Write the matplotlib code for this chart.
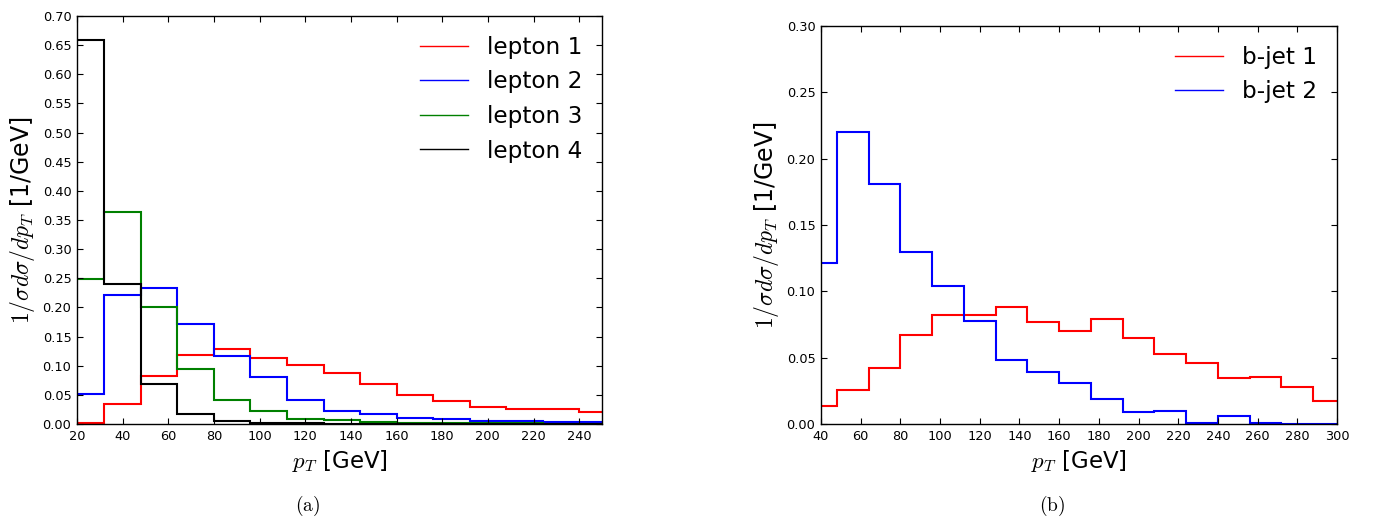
import numpy as np
import matplotlib
matplotlib.use("Agg")
import matplotlib.pyplot as plt
from matplotlib.lines import Line2D

plt.rcParams['mathtext.fontset'] = 'cm'
plt.rcParams['font.family'] = ['DejaVu Sans']

# ---- data ----
lep_edges = [16, 32, 48, 64, 80, 96, 112, 128, 144, 160, 176, 192, 208, 224, 240, 256]
lepton1 = [0.001, 0.035, 0.082, 0.118, 0.128, 0.114, 0.102, 0.087, 0.068, 0.050, 0.039, 0.030, 0.026, 0.025, 0.020]
lepton2 = [0.052, 0.221, 0.234, 0.171, 0.117, 0.080, 0.042, 0.023, 0.017, 0.010, 0.0086, 0.006, 0.005, 0.004, 0.003]
lepton3 = [0.249, 0.364, 0.201, 0.094, 0.041, 0.022, 0.009, 0.007, 0.003, 0.002, 0.0015, 0.001, 0.001, 0.0008, 0.0005]
lepton4 = [0.658, 0.241, 0.068, 0.018, 0.006, 0.002, 0.001, 0.0005, 0.0003, 0.0002, 0.0001, 0.0001, 0.0, 0.0, 0.0]
lep_labels = ['lepton 1', 'lepton 2', 'lepton 3', 'lepton 4']

jet_edges = [32, 48, 64, 80, 96, 112, 128, 144, 160, 176, 192, 208, 224, 240, 256, 272, 288, 304]
bjet1 = [0.0135, 0.026, 0.042, 0.067, 0.082, 0.082, 0.088, 0.077, 0.070, 0.079, 0.065, 0.053, 0.046, 0.035, 0.0356, 0.028, 0.017]
bjet2 = [0.121, 0.220, 0.181, 0.130, 0.104, 0.078, 0.048, 0.039, 0.031, 0.019, 0.009, 0.010, 0.001, 0.006, 0.001, 0.0003, 0.0001]
jet_labels = ['b-jet 1', 'b-jet 2']

colors = ['#ff0000', '#0000ff', '#008000', '#000000']

fig = plt.figure(figsize=(13.75, 5.21), dpi=100)
ax1 = fig.add_axes([77/1375, 1-424/521, (602-77)/1375, (424-16)/521])
ax2 = fig.add_axes([821/1375, 1-424/521, (1337-821)/1375, (424-26)/521])

def style(ax):
    ax.tick_params(direction='in', top=True, right=True, length=4, width=0.8,
                   labelsize=9.3, pad=4)
    for s in ax.spines.values():
        s.set_linewidth(1.0)

for vals, c in zip([lepton1, lepton2, lepton3, lepton4], colors):
    ax1.stairs(vals, lep_edges, color=c, linewidth=1.5, baseline=None)
ax1.set_xlim(20, 250)
ax1.set_ylim(0, 0.70)
ax1.set_xticks(np.arange(20, 241, 20))
ax1.set_yticks(np.arange(0, 0.701, 0.05))
ax1.yaxis.set_major_formatter(matplotlib.ticker.FormatStrFormatter('%.2f'))
style(ax1)

for vals, c in zip([bjet1, bjet2], colors[:2]):
    ax2.stairs(vals, jet_edges, color=c, linewidth=1.5, baseline=None)
ax2.set_xlim(40, 300)
ax2.set_ylim(0, 0.30)
ax2.set_xticks(np.arange(40, 301, 20))
ax2.set_yticks(np.arange(0, 0.301, 0.05))
ax2.yaxis.set_major_formatter(matplotlib.ticker.FormatStrFormatter('%.2f'))
style(ax2)

ylab = r'$1/\sigma d\sigma/dp_T$ [1/GeV]'
xlab = r'$p_T$ [GeV]'
for ax in (ax1, ax2):
    ax.set_xlabel(xlab, fontsize=16.5, labelpad=4)
    ax.set_ylabel(ylab, fontsize=17, labelpad=4)

leg_kw = dict(loc='upper right', frameon=False, fontsize=16.7,
              handlelength=2.07, handletextpad=0.82, labelspacing=0.5,
              borderaxespad=0.45)
h1 = [Line2D([], [], color=c, lw=1.0) for c in colors]
ax1.legend(h1, lep_labels, **leg_kw)
h2 = [Line2D([], [], color=c, lw=1.0) for c in colors[:2]]
ax2.legend(h2, jet_labels, **leg_kw)

fig.text(307.7/1375, 1-506/521, r'$\mathrm{(a)}$', fontsize=14, ha='center', va='center')
fig.text(1051.7/1375, 1-506/521, r'$\mathrm{(b)}$', fontsize=14, ha='center', va='center')

fig.savefig('out.png', dpi=100)
